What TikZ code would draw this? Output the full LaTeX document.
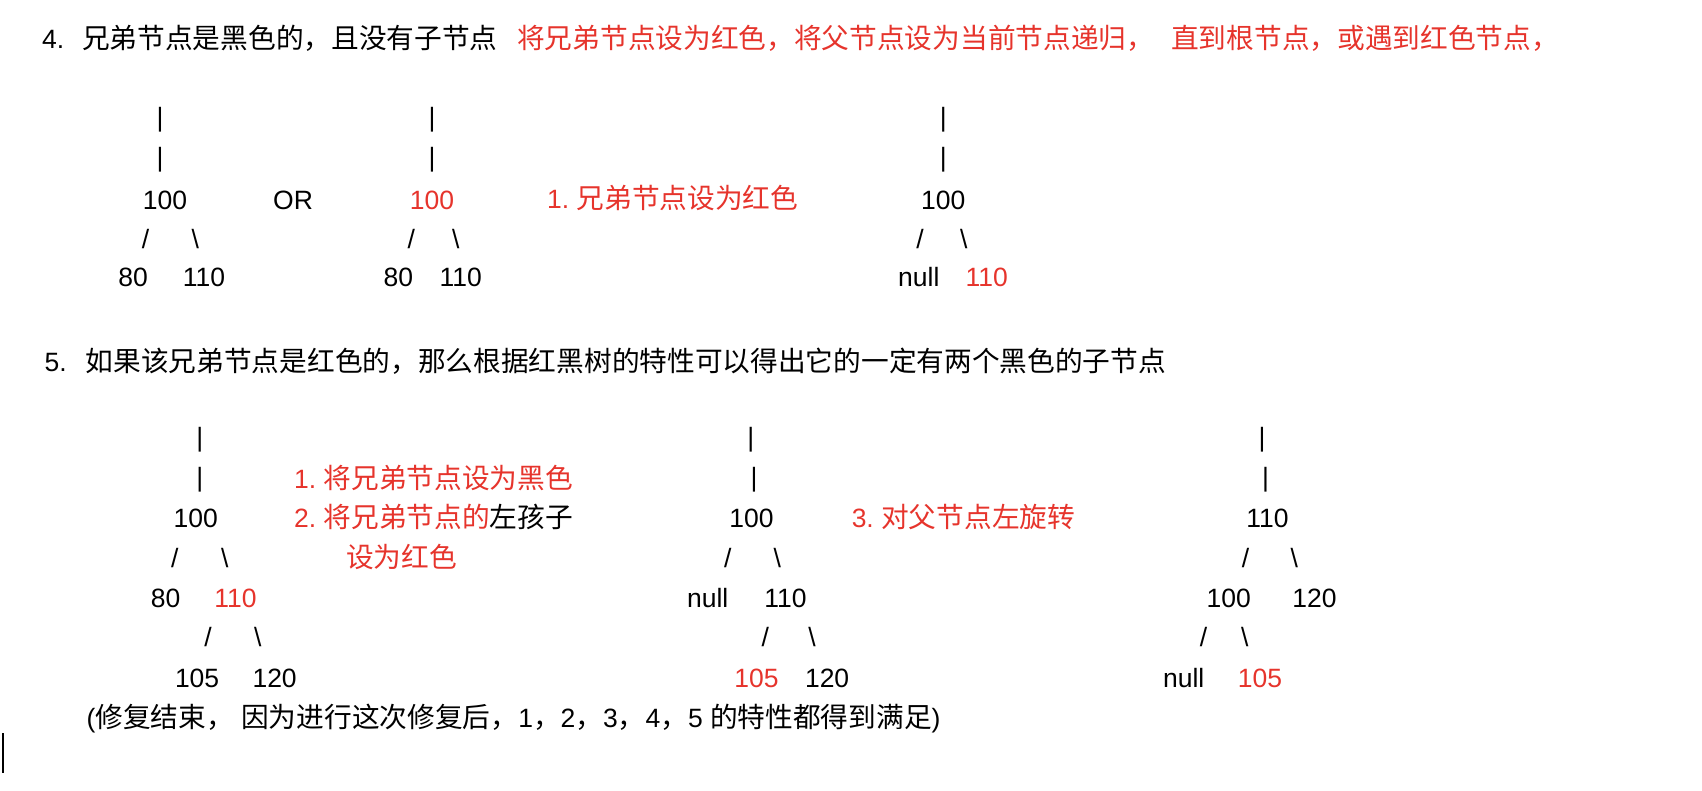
\documentclass[tikz,border=0pt]{standalone}
\usepackage{fontspec}
\setmainfont{Liberation Sans}
\newfontfamily\cjkfont{Noto Sans CJK SC}
\newcommand\zhtxt[1]{{\cjkfont\fontsize{27.7pt}{30pt}\selectfont #1}}
\definecolor{tred}{RGB}{230,52,44}
\frenchspacing
\tikzset{
  t/.style={anchor=base, inner sep=0pt, yshift=-9.5pt},
  tw/.style={anchor=base west, inner sep=0pt, yshift=-10pt},
  bar/.style={anchor=base, inner sep=0pt, yshift=-7.7pt},
  rd/.style={text=tred},
  cursorline/.style={line width=2pt, black}
}
\begin{document}
\begin{tikzpicture}[x=1.0855pt, y=-1.0855pt, font=\fontsize{26.5pt}{30pt}\selectfont]
\useasboundingbox (0,0) rectangle (1568,728);

% ---------- headline 4 ----------
\node[tw] (h4n) at (38.7,35.5) {4.};
\node[tw] (h4a) at (75.5,35.5) {\zhtxt{兄弟节点是黑色的，且没有子节点}};
\node[tw,rd] (h4b) at (476.3,35.5) {\zhtxt{将兄弟节点设为红色，将父节点设为当前节点递归，}};
\node[tw,rd] (h4c) at (1078.8,35.5) {\zhtxt{直到根节点，或遇到红色节点，}};

% ---------- tree A ----------
\node[bar] (a1) at (147.4,109.6) {|};
\node[bar] (a2) at (147.4,146.5) {|};
\node[t] (a100) at (152,183.8) {100};
\node[t] (as1) at (134,220) {/};
\node[t] (as2) at (180,220) {\textbackslash};
\node[t] (a80) at (122.6,255) {80};
\node[t] (a110) at (188,255) {110};

\node[t] (or) at (270,183.8) {OR};

% ---------- tree B ----------
\node[bar] (b1) at (398,109.6) {|};
\node[bar] (b2) at (398,146.5) {|};
\node[t,rd] (b100) at (398,183.8) {100};
\node[t] (bs1) at (379,220) {/};
\node[t] (bs2) at (420,220) {\textbackslash};
\node[t] (b80) at (367,255) {80};
\node[t] (b110) at (424.5,255) {110};

\node[tw,rd] (lab1) at (503.9,182.9) {1.\ \zhtxt{兄弟节点设为红色}};

% ---------- tree C ----------
\node[bar] (c1) at (869,109.6) {|};
\node[bar] (c2) at (869,146.5) {|};
\node[t] (c100) at (869,183.8) {100};
\node[t] (cs1) at (847.5,220) {/};
\node[t] (cs2) at (888,220) {\textbackslash};
\node[t] (cnull) at (846.5,255) {null};
\node[t,rd] (c110) at (909,255) {110};

% ---------- headline 5 ----------
\node[tw] (h5n) at (41,332.6) {5.};
\node[tw] (h5a) at (78.8,332.6) {\zhtxt{如果该兄弟节点是红色的，那么根据红黑树的特性可以得出它的一定有两个黑色的子节点}};

% ---------- tree D ----------
\node[bar] (d1) at (184,404.5) {|};
\node[bar] (d2) at (184,441) {|};
\node[t] (d100) at (180.4,477) {100};
\node[t] (ds1) at (161,514) {/};
\node[t] (ds2) at (207,514) {\textbackslash};
\node[t] (d80) at (152.5,551) {80};
\node[t,rd] (d110) at (217,551) {110};
\node[t] (ds3) at (191.6,587) {/};
\node[t] (ds4) at (237.6,587) {\textbackslash};
\node[t] (d105) at (181.6,624.6) {105};
\node[t] (d120) at (253,624.6) {120};

\node[tw,rd] (lab2) at (270.8,441) {1.\ \zhtxt{将兄弟节点设为黑色}};
\node[tw,rd] (lab3) at (270.8,477) {2.\ \zhtxt{将兄弟节点的}\textcolor{black}{\zhtxt{左孩子}}};
\node[tw,rd] (lab4) at (318.7,514) {\zhtxt{设为红色}};

% ---------- tree E ----------
\node[bar] (e1) at (691.6,404.5) {|};
\node[bar] (e2) at (694.6,441) {|};
\node[t] (e100) at (692.4,477) {100};
\node[t] (es1) at (670.6,514) {/};
\node[t] (es2) at (716,514) {\textbackslash};
\node[t] (enull) at (652,551) {null};
\node[t] (e110) at (723.6,551) {110};
\node[t] (es3) at (705,587) {/};
\node[t] (es4) at (748,587) {\textbackslash};
\node[t,rd] (e105) at (697,624.6) {105};
\node[t] (e120) at (762,624.6) {120};

\node[tw,rd] (lab5) at (784.5,477) {3.\ \zhtxt{对父节点左旋转}};

% ---------- tree F ----------
\node[bar] (f1) at (1162.6,404.5) {|};
\node[bar] (f2) at (1165.8,441) {|};
\node[t] (f110) at (1167.7,477) {110};
\node[t] (fs1) at (1147.5,514) {/};
\node[t] (fs2) at (1192.5,514) {\textbackslash};
\node[t] (f100) at (1132,551) {100};
\node[t] (f120) at (1211,551) {120};
\node[t] (fs3) at (1108.8,587) {/};
\node[t] (fs4) at (1146.8,587) {\textbackslash};
\node[t] (fnull) at (1090.5,624.6) {null};
\node[t,rd] (f105) at (1160.7,624.6) {105};

% ---------- bottom note ----------
\node[tw] (note) at (79.6,660.6) {(\zhtxt{修复结束，}\ \zhtxt{因为进行这次修复后，}1\zhtxt{，}2\zhtxt{，}3\zhtxt{，}4\zhtxt{，}5 \zhtxt{的特性都得到满足})};

% ---------- text cursor ----------
\coordinate (cur1) at (2.8,675.3);
\coordinate (cur2) at (2.8,712.1);
\draw[cursorline] (cur1) -- (cur2);
\end{tikzpicture}
\end{document}
